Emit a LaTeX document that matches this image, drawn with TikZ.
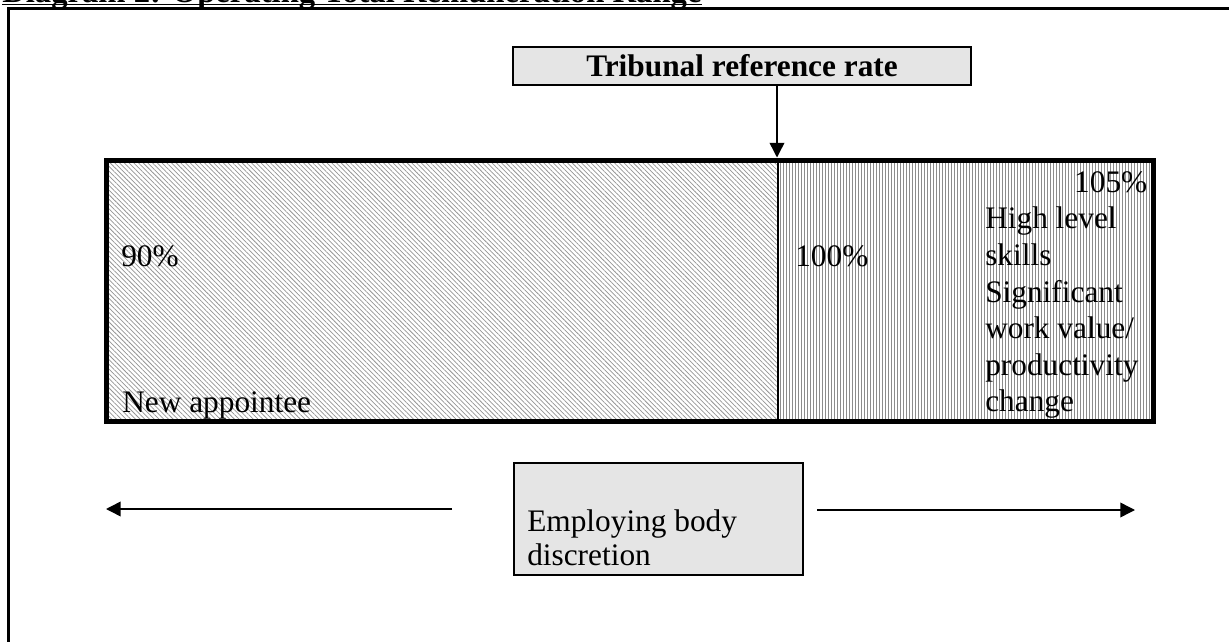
\documentclass[tikz,border=0pt]{standalone}
\usepackage{fontspec}
\setmainfont{Liberation Serif}
\usetikzlibrary{patterns.meta,arrows.meta}
\begin{document}
\begin{tikzpicture}[x=0.75pt,y=-0.75pt,
  txt/.style={inner sep=0pt, font=\fontsize{23.5pt}{27.5pt}\selectfont},
  boldtxt/.style={inner sep=0pt, font=\fontsize{23.5pt}{27.5pt}\selectfont\bfseries},
  graybox/.style={draw=black, line width=1.3pt, fill=black!10},
  arr/.style={line width=1.1pt, -{Triangle[length=11pt,width=11pt]}},
  hatchL/.style={pattern={Lines[angle=-45,distance=2.5pt,line width=0.55pt]}, pattern color=black!42},
  hatchR/.style={pattern={Lines[angle=90,distance=2.25pt,line width=0.55pt]}, pattern color=black!45},
]
\useasboundingbox (0,0) rectangle (1229,642);
% outer frame
\draw[line width=2.3pt] (1240,8.7) -- (8.7,8.7) -- (8.7,650);
% title (cut off at the top edge, as in the reference)
\node[boldtxt, font=\fontsize{24.5pt}{28pt}\selectfont\bfseries, anchor=base west] (title) at (2,2.5) {Diagram 2: Operating Total Remuneration Range};
\draw[line width=0.9pt] ([yshift=-1.3pt]title.base west) -- ([yshift=-1.3pt]title.base east);
% tribunal reference rate box
\node[graybox, boldtxt, minimum width=343.5pt, minimum height=28.5pt] (trib) at (742,66) {Tribunal reference rate};
% bar
\node[hatchL, inner sep=0pt, minimum width=503.25pt, minimum height=195.75pt, anchor=north west] (low) at (106,160) {};
\node[hatchR, inner sep=0pt, minimum width=282pt, minimum height=195.75pt, anchor=north west] (high) at (777,160) {};
\draw[line width=1.5pt] (low.north east) -- (low.south east);
\draw[line width=3.75pt] (low.north west) rectangle (high.south east);
\coordinate (refpt) at (777,157.5);
\draw[arr] (trib.south -| refpt) -- (refpt);
% bar texts
\node[txt, anchor=base west] (p90) at (121,266) {90\%};
\node[txt, anchor=base west] (newapp) at (122,412) {New appointee};
\node[txt, anchor=base west] (p100) at (795,266) {100\%};
\node[txt, anchor=base west] (rcol) at (985,192) {\begin{tabular}[t]{@{}p{121.5pt}@{}}\hfill 105\%\\ High level\\ skills\\ Significant\\ work value/\\ productivity\\ change\end{tabular}};
% employing body discretion
\node[graybox, inner sep=0pt, minimum width=216.75pt, minimum height=84pt, anchor=north west] (emp) at (513,462) {};
\node[txt, font=\fontsize{23.5pt}{26pt}\selectfont, anchor=base west] (empT) at (527,531) {\begin{tabular}[t]{@{}l@{}}Employing body\\ discretion\end{tabular}};
\coordinate (ls) at (452,509);
\coordinate (le) at (106,509);
\coordinate (rs) at (817,510);
\coordinate (re) at (1135,510);
\draw[arr] (ls) -- (le);
\draw[arr] (rs) -- (re);
\end{tikzpicture}
\end{document}
